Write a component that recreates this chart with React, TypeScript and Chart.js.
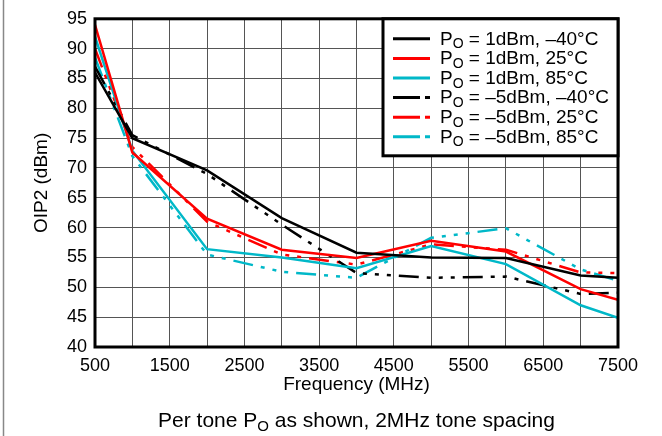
import React, { useEffect, useRef } from 'react';
import { Chart, registerables } from 'chart.js';
Chart.register(...registerables);

const frequencies = [500, 1000, 2000, 3000, 4000, 5000, 6000, 7000, 7500];
const p1Minus40 = [86.0, 75.0, 69.6, 61.6, 55.8, 55.0, 54.9, 52.0, 51.6];
const p1Plus25 = [94.0, 72.6, 61.5, 56.3, 54.9, 57.8, 56.0, 49.7, 47.9];
const p1Plus85 = [92.0, 72.9, 56.4, 55.0, 53.2, 56.9, 53.9, 47.0, 44.9];
const m5Minus40 = [87.0, 75.5, 69.0, 60.5, 52.4, 51.6, 51.8, 48.9, 49.1];
const m5Plus25 = [90.0, 73.5, 61.0, 55.5, 53.8, 57.2, 56.3, 52.5, 52.4];
const m5Plus85 = [88.5, 72.0, 55.5, 52.6, 51.6, 58.3, 59.9, 53.0, 51.1];

const seriesLabels = ['1dBm, –40°C', '1dBm, 25°C', '1dBm, 85°C', '–5dBm, –40°C', '–5dBm, 25°C', '–5dBm, 85°C'];
const seriesValues = [p1Minus40, p1Plus25, p1Plus85, m5Minus40, m5Plus25, m5Plus85];
const seriesColors = ['#000000', '#ff0000', '#00b8c8', '#000000', '#ff0000', '#00b8c8'];
const seriesDashed = [false, false, false, true, true, true];

const xTickLabels = [500, 1500, 2500, 3500, 4500, 5500, 6500, 7500];
const yTitle = 'OIP2 (dBm)';
const xTitle = 'Frequency (MHz)';
const captionPre = 'Per tone ';
const captionPost = ' as shown, 2MHz tone spacing';

const FONT = '"Liberation Sans", Arial, Helvetica, sans-serif';
const DASH = [20, 8, 4, 8, 4, 8, 4, 8];

function drawPo(ctx: CanvasRenderingContext2D, x: number, y: number, size: number, rest: string) {
  ctx.font = `${size}px ${FONT}`;
  ctx.fillText('P', x, y);
  let cx = x + ctx.measureText('P').width;
  const sub = Math.round(size * 0.72);
  ctx.font = `${sub}px ${FONT}`;
  ctx.fillText('O', cx, y + size * 0.28);
  cx += ctx.measureText('O').width;
  ctx.font = `${size}px ${FONT}`;
  ctx.fillText(rest, cx, y);
}

function measurePo(ctx: CanvasRenderingContext2D, size: number, pre: string, rest: string) {
  ctx.font = `${size}px ${FONT}`;
  let w = ctx.measureText(pre + 'P' + rest).width;
  ctx.font = `${Math.round(size * 0.72)}px ${FONT}`;
  w += ctx.measureText('O').width;
  return w;
}

const framePlugin = {
  id: 'frame',
  beforeDraw(chart: any) {
    const ctx = chart.ctx;
    ctx.save();
    ctx.strokeStyle = '#888';
    ctx.lineWidth = 1.5;
    ctx.beginPath();
    ctx.moveTo(3.5, 0);
    ctx.lineTo(3.5, chart.height);
    ctx.stroke();
    ctx.restore();
  },
  afterDatasetsDraw(chart: any) {
    const ctx: CanvasRenderingContext2D = chart.ctx;
    const a = chart.chartArea;
    ctx.save();
    // plot frame
    ctx.strokeStyle = '#000';
    ctx.lineWidth = 3;
    ctx.strokeRect(a.left, a.top, a.right - a.left, a.bottom - a.top);
    // legend box
    const bw = 235, bh = 137;
    const bx = a.right - bw, by = a.top;
    ctx.fillStyle = '#fff';
    ctx.fillRect(bx, by, bw, bh);
    ctx.strokeRect(bx, by, bw, bh);
    ctx.textBaseline = 'middle';
    ctx.textAlign = 'left';
    chart.data.datasets.forEach((ds: any, i: number) => {
      const y = by + 20 + i * 19.6;
      ctx.strokeStyle = ds.borderColor;
      ctx.lineWidth = 3;
      ctx.setLineDash(seriesDashed[i] ? [27, 5, 5, 100] : []);
      ctx.beginPath();
      ctx.moveTo(bx + 10, y);
      ctx.lineTo(bx + 47, y);
      ctx.stroke();
      ctx.setLineDash([]);
      ctx.fillStyle = '#000';
      drawPo(ctx, bx + 57, y + 0.5, 19, ' = ' + seriesLabels[i]);
    });
    // caption
    const size = 21;
    const w = measurePo(ctx, size, captionPre, captionPost);
    const cx = (a.left + a.right) / 2 - w / 2;
    ctx.fillStyle = '#000';
    ctx.font = `${size}px ${FONT}`;
    ctx.fillText(captionPre, cx, 421);
    const pw = ctx.measureText(captionPre).width;
    drawPo(ctx, cx + pw, 421, size, captionPost);
    ctx.restore();
  },
};

export default function App() {
  const ref = useRef<HTMLCanvasElement>(null);
  useEffect(() => {
    if (!ref.current) return;
    const chart = new Chart(ref.current, {
      type: 'line',
      data: {
        datasets: seriesValues.map((vals, i) => ({
          label: seriesLabels[i],
          data: vals.map((v, j) => ({ x: frequencies[j], y: v })),
          borderColor: seriesColors[i],
          backgroundColor: seriesColors[i],
          borderWidth: 2.5,
          borderDash: seriesDashed[i] ? DASH : [],
          pointRadius: 0,
          tension: 0,
          fill: false,
        })),
      },
      options: {
        animation: false,
        responsive: false,
        maintainAspectRatio: false,
        layout: { padding: { left: 0, right: 44, top: 15, bottom: 0 } },
        plugins: { legend: { display: false }, tooltip: { enabled: false }, title: { display: false } },
        scales: {
          x: {
            type: 'linear',
            min: 500,
            max: 7500,
            afterFit: (s: any) => { s.height = 89; },
            afterBuildTicks: (s: any) => {
              const t = [];
              for (let v = 500; v <= 7500; v += 500) t.push({ value: v });
              s.ticks = t;
            },
            ticks: {
              autoSkip: false,
              maxRotation: 0,
              padding: 8,
              color: '#000',
              font: { family: FONT, size: 18 },
              callback: (v: any) => (xTickLabels.includes(Number(v)) ? String(v) : ''),
            },
            grid: { color: '#555', lineWidth: 1, drawTicks: false },
            border: { display: false },
            title: { display: true, text: xTitle, color: '#000', font: { family: FONT, size: 19 }, padding: { top: 0, bottom: 40 } },
          },
          y: {
            type: 'linear',
            min: 40,
            max: 95,
            afterFit: (s: any) => { s.width = 95; },
            ticks: { stepSize: 5, padding: 8, color: '#000', font: { family: FONT, size: 18 } },
            grid: { color: '#555', lineWidth: 1, drawTicks: false },
            border: { display: false },
            title: { display: true, text: yTitle, color: '#000', font: { family: FONT, size: 19 }, padding: { top: 30, bottom: 0 } },
          },
        },
      },
      plugins: [framePlugin],
    });
    return () => chart.destroy();
  }, []);
  return (
    <div style={{ position: 'fixed', left: 0, top: 0, width: 662, height: 436, background: '#fff' }}>
      <canvas ref={ref} width={662} height={436} style={{ width: 662, height: 436, display: 'block' }} />
    </div>
  );
}
